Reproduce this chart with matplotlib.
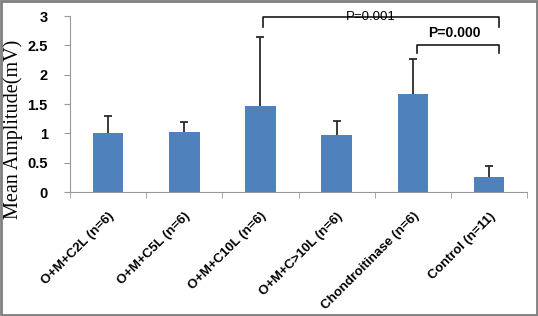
import matplotlib
matplotlib.use("Agg")
import matplotlib.pyplot as plt
from matplotlib.patches import Rectangle

# datos
categories = ["O+M+C2L (n=6)", "O+M+C5L (n=6)", "O+M+C10L (n=6)",
              "O+M+C>10L (n=6)", "Chondroitinase (n=6)", "Control (n=11)"]
means = [1.00, 1.03, 1.46, 0.97, 1.67, 0.25]
err_up = [0.30, 0.16, 1.19, 0.24, 0.60, 0.19]
yticks = [0, 0.5, 1, 1.5, 2, 2.5, 3]
ytick_labels = ["0", "0.5", "1", "1.5", "2", "2.5", "3"]

fig = plt.figure(figsize=(5.38, 3.16), dpi=100)
ax = fig.add_axes([0.130, 0.392, 0.850, 0.557])

x = list(range(len(categories)))
tops = [m + e for m, e in zip(means, err_up)]
ax.bar(x, means, width=0.40, color="#4F81BD", zorder=2)
# solo barra de error superior, con tapa arriba
ax.vlines(x, means, tops, color="#2b2b2b", lw=1.3, zorder=3)
ax.plot(x, tops, ls="none", marker="_", ms=6, mew=1.3, color="#2b2b2b", zorder=3)

ax.set_xlim(-0.5, len(categories) - 0.5)
ax.set_ylim(0, 3)
ax.set_yticks(yticks)
ax.set_yticklabels(ytick_labels, fontsize=10.5, fontweight="bold",
                   family="Liberation Sans")
ax.set_xticks(x)
ax.set_xticklabels(categories, rotation=45, ha="right", rotation_mode="anchor",
                   fontsize=9.5, fontweight="bold", family="Liberation Sans")
ax.tick_params(axis="x", length=0, pad=13)
ax.set_xticks([i - 0.5 for i in range(len(categories) + 1)], minor=True)
ax.tick_params(axis="x", which="minor", length=4, color="#999999")
ax.tick_params(axis="y", length=4, color="#999999", pad=12)

for s in ["top", "right"]:
    ax.spines[s].set_visible(False)
for s in ["left", "bottom"]:
    ax.spines[s].set_color("#999999")

fig.text(13 / 538, 1 - 129 / 316, "Mean Amplitude(mV)", rotation=90,
         ha="center", va="center", family="Liberation Serif", fontsize=14.5)

# corchetes de significancia
ax.plot([2.03, 2.03, 5.13, 5.13], [2.81, 2.98, 2.98, 2.81],
        color="#1a1a1a", lw=1.2, clip_on=False)
ax.text(3.45, 2.99, "P=0.001", ha="center", va="center", fontsize=9.5,
        family="Liberation Sans", clip_on=False)
ax.plot([4.05, 4.05, 5.13, 5.13], [2.37, 2.51, 2.51, 2.37],
        color="#1a1a1a", lw=1.2, clip_on=False)
ax.text(4.54, 2.71, "P=0.000", ha="center", va="center", fontsize=10,
        fontweight="bold", family="Liberation Sans")

# marco exterior
fig.patches.append(Rectangle((0.002, 0.003), 0.996, 0.994, transform=fig.transFigure,
                             fill=False, edgecolor="#7f7f7f", lw=2))

plt.savefig("out.png", dpi=100)
plt.close()
